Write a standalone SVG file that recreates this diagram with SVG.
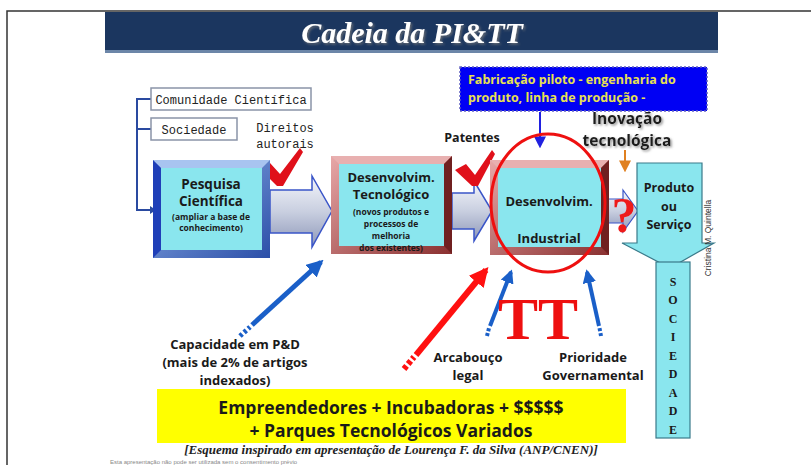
<svg xmlns="http://www.w3.org/2000/svg" width="811" height="465" viewBox="0 0 811 465">
<defs>
<style>
.b{font-family:"Open Sans","Liberation Sans",sans-serif;font-weight:bold;fill:#1a1a1a;text-anchor:middle}
.m{font-family:"Liberation Mono",monospace;fill:#222;text-anchor:middle}
.s{font-family:"Liberation Serif",serif;font-weight:bold;text-anchor:middle}
.inner{fill:#8ae6ee}
</style>
<filter id="sh" x="-10%" y="-20%" width="130%" height="150%"><feDropShadow dx="1.5" dy="1.5" stdDeviation="1" flood-color="#777" flood-opacity="0.8"/></filter>
<linearGradient id="ag" x1="0" y1="0" x2="0" y2="1">
<stop offset="0" stop-color="#f4f6fb"/><stop offset="0.5" stop-color="#c9cfe0"/><stop offset="1" stop-color="#8d97b8"/>
</linearGradient>
<linearGradient id="bf" x1="0" y1="0" x2="1" y2="1">
<stop offset="0" stop-color="#8fb0e8"/><stop offset="1" stop-color="#2c4fa8"/>
</linearGradient>
<linearGradient id="rf" x1="0" y1="0" x2="1" y2="1">
<stop offset="0" stop-color="#e8a8a8"/><stop offset="1" stop-color="#8a3030"/>
</linearGradient>
<marker id="hb" viewBox="0 0 10 10" refX="8" refY="5" markerWidth="3.4" markerHeight="3.4" orient="auto"><path d="M0,0 L10,5 L0,10 z" fill="#1a5fc8"/></marker>
<marker id="hr" viewBox="0 0 10 10" refX="8" refY="5" markerWidth="3.2" markerHeight="3.2" orient="auto"><path d="M0,0 L10,5 L0,10 z" fill="#ff1010"/></marker>
<marker id="hs" viewBox="0 0 10 10" refX="8" refY="5" markerWidth="6" markerHeight="6" orient="auto"><path d="M0,0 L10,5 L0,10 z" fill="#2020e0"/></marker>
<marker id="ho" viewBox="0 0 10 10" refX="8" refY="5" markerWidth="6" markerHeight="6" orient="auto"><path d="M0,0 L10,5 L0,10 z" fill="#e08020"/></marker>
</defs>
<rect width="811" height="465" fill="#fff"/>
<path d="M7,465 V11 H811" fill="none" stroke="#333" stroke-width="1.5"/>

<g id="title">
<rect x="105" y="12" width="613" height="40" fill="#1b365f"/>
<rect x="105" y="50" width="613" height="3" fill="#6c86a8"/>
<text x="412" y="43" font-family="Liberation Serif,serif" font-size="30" font-weight="bold" font-style="italic" fill="#fff" text-anchor="middle" filter="url(#sh)">Cadeia da PI&amp;TT</text>
</g>

<g id="connectors">
<path d="M151,99 H137 V210 H150" fill="none" stroke="#2a4aa0" stroke-width="2"/>
<path d="M137,129 H151" stroke="#2a4aa0" stroke-width="2"/>
<path d="M150,206 L156,210 L150,214 z" fill="#2a4aa0"/>
<polygon points="270,190 312,190 312,176 332,211 312,247 312,233 270,233" fill="url(#ag)" stroke="#3a55c8" stroke-width="1.5"/>
<polygon points="452,193 474,193 474,181 492,211 474,241 474,229 452,229" fill="url(#ag)" stroke="#3a55c8" stroke-width="1.5"/>
<polygon points="608,199 623,199 623,190 638,211 623,232 623,223 608,223" fill="url(#ag)" stroke="#3a55c8" stroke-width="1.2"/>
<line x1="540" y1="112" x2="540" y2="146" stroke="#2020e0" stroke-width="2" marker-end="url(#hs)"/>
<line x1="625" y1="150" x2="625" y2="170" stroke="#e08020" stroke-width="2" marker-end="url(#ho)"/>
<line x1="252" y1="325" x2="321" y2="262" stroke="#1a5fc8" stroke-width="5" marker-end="url(#hb)"/>
<line x1="240" y1="336" x2="250" y2="327" stroke="#1a5fc8" stroke-width="5" stroke-dasharray="3 2.5"/>
<line x1="416" y1="355" x2="486" y2="270" stroke="#ff1010" stroke-width="6" marker-end="url(#hr)"/>
<line x1="404" y1="369" x2="414" y2="357" stroke="#ff1010" stroke-width="6" stroke-dasharray="4 2.5"/>
<line x1="490" y1="326" x2="511" y2="272" stroke="#1a5fc8" stroke-width="4" marker-end="url(#hb)"/>
<line x1="487" y1="336" x2="489" y2="328" stroke="#1a5fc8" stroke-width="4" stroke-dasharray="3 2"/>
<line x1="599" y1="326" x2="587" y2="272" stroke="#1a5fc8" stroke-width="4" marker-end="url(#hb)"/>
<line x1="601" y1="336" x2="599.5" y2="328" stroke="#1a5fc8" stroke-width="4" stroke-dasharray="3 2"/>
</g>

<g id="comunidade">
<rect x="151" y="88" width="160" height="22" fill="#fff" stroke="#8a94a8" stroke-width="1.5"/>
<text class="m" x="231" y="104" font-size="12">Comunidade Científica</text>
</g>
<g id="sociedade-box">
<rect x="151" y="118" width="86" height="22" fill="#fff" stroke="#8a94a8" stroke-width="1.5"/>
<text class="m" x="194" y="134" font-size="12">Sociedade</text>
</g>
<g id="direitos">
<text class="m" x="285" y="132" font-size="12">Direitos</text>
<text class="m" x="285" y="148" font-size="12">autorais</text>
<path d="M259,168 L270,163 L280,174 L300,148 L303,152 L283,186 L277,186 z" fill="#e0101a"/>
</g>
<g id="patentes">
<text class="b" x="472" y="142" font-size="12.5">Patentes</text>
<path d="M455,170 L466,164 L475,175 L492,150 L495,154 L478,186 L472,186 z" fill="#e0101a"/>
</g>

<g id="pesquisa">
<rect x="153" y="160" width="117" height="98" fill="url(#bf)"/>
<polygon points="153,160 270,160 262,168 161,168" fill="#a8c4f0"/>
<polygon points="153,160 161,168 161,250 153,258" fill="#1f3fb8"/>
<rect class="inner" x="161" y="168" width="101" height="82"/>
<text class="b" x="211" y="189" font-size="13.5">Pesquisa</text>
<text class="b" x="211" y="206" font-size="13.5">Científica</text>
<text class="b" x="211" y="220" font-size="8.5">(ampliar a base de</text>
<text class="b" x="211" y="231" font-size="8.5">conhecimento)</text>
</g>

<g id="desenv-tec">
<rect x="331" y="156" width="121" height="98" fill="url(#rf)"/>
<polygon points="331,156 452,156 444,164 339,164" fill="#e8b0b0"/>
<polygon points="452,156 444,164 444,246 452,254" fill="#702020"/>
<rect class="inner" x="339" y="164" width="105" height="82"/>
<text class="b" x="391" y="182" font-size="13">Desenvolvim.</text>
<text class="b" x="391" y="199" font-size="13">Tecnológico</text>
<text class="b" x="391" y="215" font-size="8.5">(novos produtos e</text>
<text class="b" x="391" y="227" font-size="8.5">processos de</text>
<text class="b" x="391" y="239" font-size="8.5">melhoria</text>
<text class="b" x="391" y="251" font-size="8.5">dos existentes)</text>
</g>

<g id="fabricacao">
<rect x="460" y="67" width="247" height="44" fill="#0000f4" stroke="#6060c0" stroke-width="1.5" stroke-dasharray="2 2"/>
<text x="468" y="84" font-family="Open Sans,Liberation Sans,sans-serif" font-weight="bold" font-size="12.5" fill="#e8e050">Fabricação piloto - engenharia do</text>
<text x="468" y="102" font-family="Open Sans,Liberation Sans,sans-serif" font-weight="bold" font-size="12.5" fill="#e8e050">produto, linha de produção -</text>
</g>

<g id="inovacao" filter="url(#sh)">
<text class="b" x="627" y="124" font-size="15.5">Inovação</text>
<text class="b" x="627" y="146" font-size="15.5">tecnológica</text>
</g>

<g id="desenv-ind">
<rect x="490" y="160" width="119" height="95" fill="url(#rf)"/>
<polygon points="490,160 609,160 601,168 498,168" fill="#e8b0b0"/>
<polygon points="609,160 601,168 601,247 609,255" fill="#702020"/>
<rect class="inner" x="498" y="168" width="103" height="79"/>
<text class="b" x="549" y="206" font-size="13">Desenvolvim.</text>
<text class="b" x="549" y="243" font-size="13">Industrial</text>
</g>
<ellipse cx="548" cy="203" rx="57" ry="69" fill="none" stroke="#ee1010" stroke-width="3"/>

<g id="question">
<text class="s" x="624" y="232" font-size="50" fill="#ee1a1a">?</text>
</g>

<g id="produto">
<path d="M637,163 H702 V243 H714 L670,268 L622,243 H637 Z" fill="#8ae6ee" stroke="#3a7a8a" stroke-width="1.2"/>
<text class="b" x="669" y="192" font-size="12.5">Produto</text>
<text class="b" x="669" y="211" font-size="12.5">ou</text>
<text class="b" x="669" y="229" font-size="12.5">Serviço</text>
</g>
<g id="sociedade-col">
<rect x="656" y="262" width="34" height="176" fill="#8ae6ee" stroke="#3a7a8a" stroke-width="1.2"/>
<g class="s" font-size="12" fill="#1a1a1a">
<text x="673" y="286">S</text><text x="673" y="304">O</text><text x="673" y="323">C</text><text x="673" y="341">I</text><text x="673" y="360">E</text><text x="673" y="378">D</text><text x="673" y="397">A</text><text x="673" y="415">D</text><text x="673" y="434">E</text>
</g>
</g>
<text x="711" y="238" font-family="Liberation Sans,sans-serif" font-size="8.5" fill="#333" text-anchor="middle" transform="rotate(-90 711 238)">Cristina M. Quintella</text>

<g id="tt">
<text class="s" x="538" y="339" font-size="60" fill="#ee1010">TT</text>
</g>

<g id="capacidade">
<text class="b" x="235" y="349" font-size="13">Capacidade em P&amp;D</text>
<text class="b" x="235" y="367" font-size="13">(mais de 2% de artigos</text>
<text class="b" x="235" y="385" font-size="13">indexados)</text>
</g>
<g id="arcabouco">
<text class="b" x="468" y="362" font-size="13">Arcabouço</text>
<text class="b" x="468" y="380" font-size="13">legal</text>
</g>
<g id="prioridade">
<text class="b" x="593" y="362" font-size="13">Prioridade</text>
<text class="b" x="593" y="380" font-size="13">Governamental</text>
</g>

<g id="empreendedores">
<rect x="157" y="389" width="469" height="54" fill="#ffff00"/>
<text class="b" x="391" y="414" font-size="17.5" font-weight="600">Empreendedores + Incubadoras + $$$$$</text>
<text class="b" x="391" y="437" font-size="17.5" font-weight="600">+ Parques Tecnológicos Variados</text>
</g>

<text x="391" y="454" font-family="Liberation Serif,serif" font-weight="bold" font-style="italic" font-size="13" fill="#222" text-anchor="middle">[Esquema inspirado em apresentação de Lourença F. da Silva (ANP/CNEN)]</text>
<text x="110" y="464" font-family="Liberation Sans,sans-serif" font-size="6" fill="#888">Esta apresentação não pode ser utilizada sem o consentimento prévio</text>
</svg>
